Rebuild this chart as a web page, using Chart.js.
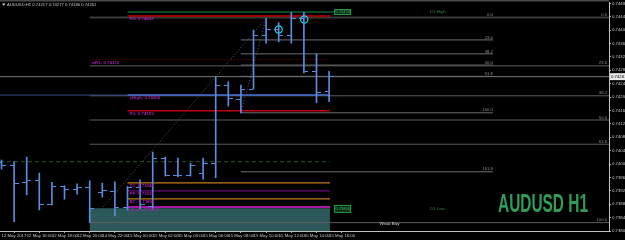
<!DOCTYPE html>
<html>
<head>
<meta charset="utf-8">
<script src="https://cdn.jsdelivr.net/npm/chart.js"></script>
<style>
html,body{margin:0;padding:0;background:#000;overflow:hidden;}
#box{width:625px;height:240px;position:relative;background:#000;}
</style>
</head>
<body>
<div id="box"><canvas id="chart" width="625" height="240"></canvas></div>
<script>
// ---------- data ----------
const barTimes = ['12 May 14:00','12 May 15:00','12 May 16:00','12 May 17:00','12 May 18:00','12 May 19:00','12 May 20:00','12 May 21:00','14 May 22:00','14 May 23:00','15 May 00:00','15 May 01:00','15 May 02:00','15 May 03:00','15 May 04:00','15 May 05:00','15 May 06:00','15 May 07:00','15 May 08:00','15 May 09:00','15 May 10:00','15 May 11:00','15 May 12:00','15 May 13:00','15 May 14:00','15 May 15:00','15 May 16:00'];
const opens  = [0.74005,0.73997,0.73946,0.73950,0.73878,0.73933,0.73923,0.73931,0.73916,0.73918,0.73871,0.73931,0.73872,0.74018,0.73967,0.73967,0.73973,0.74003,0.74234,0.74194,0.74224,0.74385,0.74402,0.74385,0.74435,0.74275,0.74217];
const highs  = [0.74012,0.74007,0.74021,0.73973,0.73945,0.73935,0.73941,0.73950,0.73943,0.73947,0.73933,0.73953,0.74036,0.74021,0.74018,0.74002,0.74018,0.74260,0.74246,0.74236,0.74400,0.74435,0.74422,0.74453,0.74453,0.74329,0.74277];
const lows   = [0.73985,0.73828,0.73908,0.73863,0.73878,0.73895,0.73910,0.73825,0.73901,0.73845,0.73863,0.73866,0.73866,0.73964,0.73962,0.73964,0.73955,0.73959,0.74173,0.74153,0.74224,0.74361,0.74365,0.74361,0.74272,0.74183,0.74186];
const closes = [0.73997,0.73943,0.73950,0.73878,0.73933,0.73925,0.73931,0.73868,0.73920,0.73871,0.73931,0.73880,0.74018,0.73967,0.73965,0.73997,0.74003,0.74234,0.74196,0.74223,0.74383,0.74402,0.74385,0.74435,0.74275,0.74214,0.74261];

const xTickSlots  = [0,2,4,6,8,10,12,14,16,18,20,22,24,26];
const xTickLabels = ['12 May 2017','12 May 16:00','12 May 18:00','12 May 20:00','14 May 22:00','15 May 00:00','15 May 02:00','15 May 04:00','15 May 06:00','15 May 08:00','15 May 10:00','15 May 12:00','15 May 14:00','15 May 16:00'];
const yTickValues = [0.7380,0.7384,0.7388,0.7392,0.7396,0.7400,0.7404,0.7408,0.7412,0.7416,0.7420,0.7424,0.7428,0.7432,0.7436,0.7440,0.7444,0.7448];

// fibonacci objects
const fibHigh  = 0.74438;
const fibALow  = 0.74153;
const fibBLow  = 0.73825;
const fibALevels = [0, 23.6, 38.2, 50.0, 61.8, 100.0, 161.8];
const fibBLevels = [0, 23.6, 38.2, 50.0, 61.8, 100.0];
const fibAStart = 19, fibAEnd = 39, fibBStart = 7;

// pivot levels
const pivotNames  = ['R2','wR1','yHigh','R1','TC','PP','BC','yLow'];
const pivotValues = [0.74442,0.74312,0.74206,0.74159,0.73944,0.73920,0.73896,0.73872];
const pivotStart  = [10,7,10,10,10,10,10,10];
const objEnd = 26.07;

const d1High = 0.74454, d1Low = 0.73866;
const weekLine = 0.74007;
const zoneTop = 0.73868;
const lastPrice = 0.74261;
const circleSlots  = [22, 24.03];
const circlePrices = [0.74402, 0.74432];
const titleText = 'AUDUSD,H1 0.74217 0.74277 0.74186 0.74261';

// ---------- styling ----------
const ohlcColor = '#5a8de0';
const X_MIN = -0.119, X_MAX = 48.214;
const Y_MIN = 0.73800, Y_MAX = 0.74484;

function tickImg(side){
  const c = document.createElement('canvas');
  c.width = 9; c.height = 1;
  const g = c.getContext('2d');
  g.fillStyle = ohlcColor;
  g.fillRect(side === 'open' ? 0 : 5, 0, 4, 1);
  return c;
}
function hline(x0, x1, v, color, width, dash, order){
  return {type:'line', data:[{x:x0,y:v},{x:x1,y:v}], borderColor:color, borderWidth:width,
    borderDash:dash||[], pointRadius:0, fill:false, order:order||5, tension:0};
}
function seg(x0, v0, x1, v1, color, width, dash){
  return {type:'line', data:[{x:x0,y:v0},{x:x1,y:v1}], borderColor:color, borderWidth:width,
    borderDash:dash||[], pointRadius:0, fill:false, order:6, tension:0};
}
const fibA = v => fibHigh - v/100*(fibHigh - fibALow);
const fibB = v => fibHigh - v/100*(fibHigh - fibBLow);

const datasets = [];
datasets.push({type:'bar', data: highs.map((h,i)=>({x:i, y:[lows[i], h]})), backgroundColor:ohlcColor,
  borderWidth:0, barThickness:1, order:0});
datasets.push({type:'line', showLine:false, data: opens.map((o,i)=>({x:i,y:o})), pointStyle:tickImg('open'), pointRadius:1, order:0});
datasets.push({type:'line', showLine:false, data: closes.map((c,i)=>({x:i,y:c})), pointStyle:tickImg('close'), pointRadius:1, order:0});
datasets.push({type:'line', showLine:false, data: circleSlots.map((s,i)=>({x:s,y:circlePrices[i]})), pointStyle:'circle',
  pointRadius:3.6, pointBorderColor:'#10e0f0', pointBackgroundColor:'rgba(0,0,0,0)', pointBorderWidth:1.2, order:0});
datasets.push({type:'line', data:[{x:fibBStart,y:zoneTop},{x:objEnd,y:zoneTop}], borderWidth:0, borderColor:'rgba(0,0,0,0)',
  backgroundColor:'#2b5858', fill:{value:Y_MIN-0.001}, pointRadius:0, order:30});
fibBLevels.forEach(l => datasets.push(hline(fibBStart, X_MAX, fibB(l), l===0?'#3a3a3a':'#5e5e5e', l===0?2:1, [], 8)));
fibALevels.forEach(l => { if (l!==0) datasets.push(hline(fibAStart, fibAEnd, fibA(l), '#6e6e6e', 1, [], 8)); });
datasets.push(hline(X_MIN, X_MAX, lastPrice, '#7a7a7a', 1, [], 8));
datasets.push(seg(7, fibBLow, 21, 0.74435, '#5c5c5c', 1, [1,2]));
datasets.push(seg(19, fibALow, 21, 0.74435, '#5c5c5c', 1, [1,2]));
const pivotColors = ['#c00000','#8a0000','#4a70d8','#c00000','#c47a1c','#6a0a78','#c47a1c','#e020e0'];
const pivotWidths = [1.5,1,1.5,1.5,1.2,1.2,1.2,1.5];
pivotNames.forEach((n,i)=>{
  datasets.push(hline(pivotStart[i], objEnd, pivotValues[i], pivotColors[i], pivotWidths[i], n==='wR1'?[1,2]:[], 4));
});
datasets.push(hline(X_MIN, 10, pivotValues[2], '#304c86', 1, [], 7));
datasets.push(hline(X_MIN, objEnd, weekLine, '#1d5a22', 1, [4,3], 7));
datasets.push(hline(10, 26.4, d1High, '#0c5c2c', 1.5, [], 4));

const overlay = {
  id:'overlay',
  afterDatasetsDraw(chart){
    const {ctx, chartArea:a, scales:{x, y}} = chart;
    const X = v => x.getPixelForValue(v), Y = v => y.getPixelForValue(v);
    ctx.save();
    ctx.textBaseline = 'middle';
    ctx.font = 'bold 4.4px "Liberation Sans"';
    ctx.fillStyle = '#a020a8';
    ctx.textAlign = 'left';
    pivotNames.forEach((n,i)=>{
      ctx.fillText(n + ': ' + pivotValues[i].toFixed(5), X(pivotStart[i]) + 2, Y(pivotValues[i]) + 3);
    });
    ctx.font = '4.2px "Liberation Sans"';
    ctx.fillStyle = '#8c8c8c';
    ctx.textAlign = 'right';
    fibALevels.forEach(l => ctx.fillText(l.toFixed(1), X(fibAEnd), Y(fibA(l)) - 2.5));
    fibBLevels.forEach(l => ctx.fillText(l.toFixed(1), a.right - 2, Y(fibB(l)) - 2.5));
    [[d1High, 6],[d1Low, 8]].forEach(([v,h])=>{
      const bx = X(26.4), by = Y(v) - h/2;
      ctx.fillStyle = '#0b2f16'; ctx.fillRect(bx, by, 17, h);
      ctx.strokeStyle = '#2f9a4e'; ctx.lineWidth = 1; ctx.strokeRect(bx+0.5, by+0.5, 16, h-1);
      ctx.fillStyle = '#3cae5e'; ctx.textAlign = 'center'; ctx.font = '4px "Liberation Sans"';
      ctx.fillText(v.toFixed(5), bx + 8.5, Y(v));
    });
    ctx.font = '4.4px "Liberation Sans"';
    ctx.fillStyle = '#2f8a45'; ctx.textAlign = 'left';
    ctx.fillText('D1 High', X(34), Y(d1High));
    ctx.fillText('D1 Low', X(34), Y(d1Low));
    ctx.fillStyle = '#d8d8d8';
    ctx.fillText('Weak Buy', X(30), a.bottom - 7);
    ctx.font = 'bold 26px "Liberation Sans"';
    const w = ctx.measureText('AUDUSD H1').width;
    ctx.save();
    ctx.translate(498, 212);
    ctx.scale(90 / w, 1);
    ctx.textBaseline = 'alphabetic';
    ctx.fillStyle = '#2e9c5a';
    ctx.fillText('AUDUSD H1', 0, 0);
    ctx.restore();
    ctx.fillStyle = '#c8c8c8';
    ctx.beginPath(); ctx.moveTo(2,3.5); ctx.lineTo(5.5,3.5); ctx.lineTo(3.75,6); ctx.closePath(); ctx.fill();
    ctx.font = '4.2px "Liberation Sans"';
    ctx.fillText(titleText, 7, 5);
    ctx.fillStyle = '#4a4a4a';
    ctx.fillRect(0, 0, a.right, 1.5);
    ctx.restore();
  },
  afterDraw(chart){
    const {ctx, chartArea:a, scales:{y}} = chart;
    const py = y.getPixelForValue(lastPrice);
    ctx.save();
    ctx.fillStyle = '#e8e8e8';
    ctx.fillRect(a.right + 1, py - 3.5, 15, 7);
    ctx.fillStyle = '#000';
    ctx.font = '4.3px "Liberation Sans"';
    ctx.textBaseline = 'middle'; ctx.textAlign = 'left';
    ctx.fillText(lastPrice.toFixed(5), a.right + 2, py);
    ctx.restore();
  }
};

new Chart(document.getElementById('chart'), {
  type:'line',
  data:{datasets},
  options:{
    responsive:false, animation:false, devicePixelRatio:1, events:[],
    layout:{autoPadding:false, padding:{top:2, left:0, right:0, bottom:0}},
    plugins:{legend:{display:false}, tooltip:{enabled:false}},
    scales:{
      x:{type:'linear', min:X_MIN, max:X_MAX, offset:false,
        afterBuildTicks: s => { s.ticks = xTickSlots.map(v => ({value:v})); },
        afterFit: s => { s.height = 9; s.paddingLeft = 0; s.paddingRight = 0; },
        ticks:{autoSkip:false, maxRotation:0, minRotation:0, align:'start', padding:0, color:'#c8c8c8',
          font:{family:'Liberation Sans', size:4.3},
          callback: v => { const k = xTickSlots.indexOf(v); return k >= 0 ? xTickLabels[k] : ''; }},
        grid:{display:true, drawOnChartArea:false, drawTicks:true, tickLength:2, color:'#b0b0b0'},
        border:{display:true, color:'#c0c0c0'}
      },
      y:{type:'linear', position:'right', min:Y_MIN, max:Y_MAX, beginAtZero:false,
        afterBuildTicks: s => { s.ticks = yTickValues.map(v => ({value:v})); },
        afterFit: s => { s.width = 16; s.paddingTop = 0; s.paddingBottom = 0; },
        ticks:{padding:1, color:'#c8c8c8', font:{family:'Liberation Sans', size:4.3},
          callback: v => Number(v).toFixed(5)},
        grid:{display:true, drawOnChartArea:false, drawTicks:true, tickLength:2, color:'#b0b0b0'},
        border:{display:true, color:'#c0c0c0'}
      }
    }
  },
  plugins:[overlay]
});
</script>
</body>
</html>
